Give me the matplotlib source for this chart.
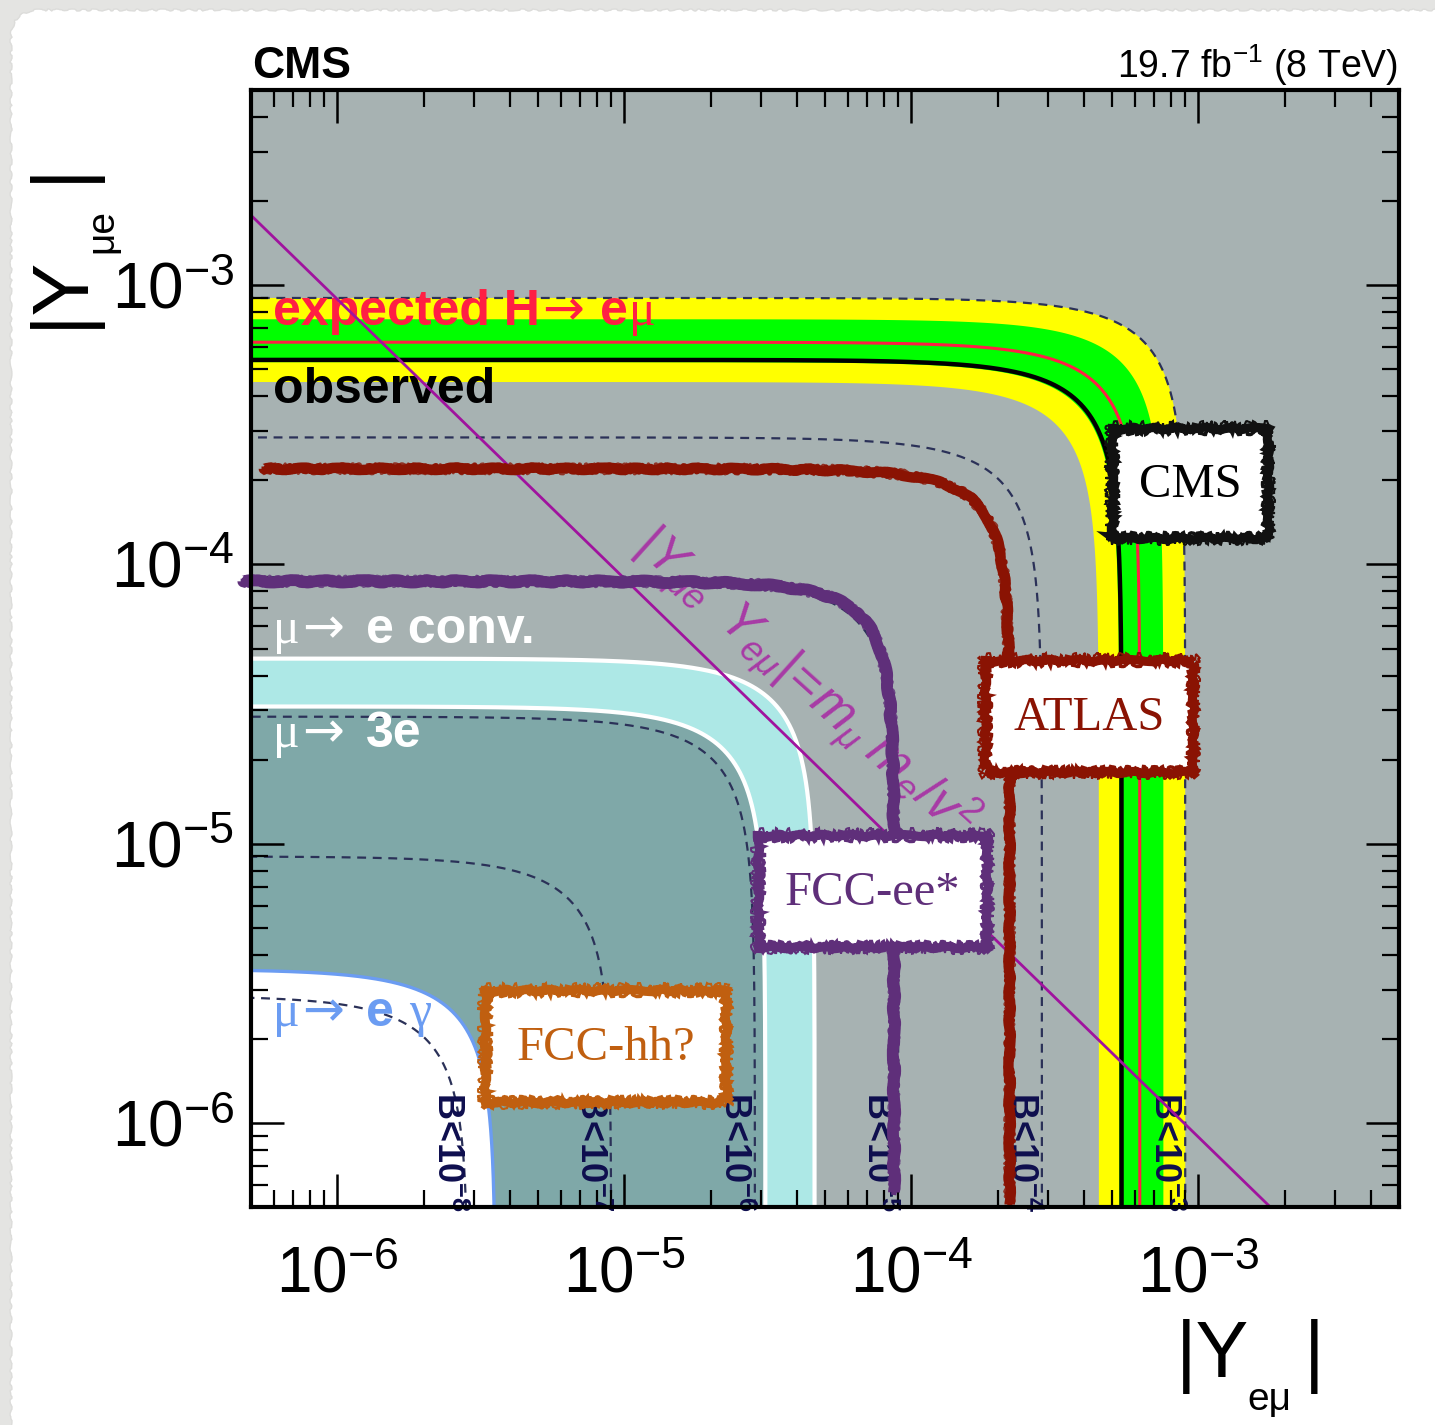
import numpy as np
import matplotlib
matplotlib.use('Agg')
import matplotlib.pyplot as plt
from matplotlib.patches import Rectangle, FancyBboxPatch
from matplotlib.ticker import LogLocator, LogFormatterSciNotation, NullFormatter

plt.rcParams['font.family'] = ['Liberation Sans', 'DejaVu Sans']
plt.rcParams['mathtext.fontset'] = 'custom'
plt.rcParams['mathtext.rm'] = 'Liberation Sans'
plt.rcParams['mathtext.it'] = 'Liberation Sans:italic'
plt.rcParams['mathtext.bf'] = 'Liberation Sans:bold'
plt.rcParams['mathtext.sf'] = 'Liberation Sans'

# ---------------- data ----------------
x_range = [5e-7, 5e-3]           # |Y_e mu|
y_range = [5e-7, 5e-3]           # |Y_mu e|
br_exponents = ['-3', '-4', '-5', '-6', '-7', '-8']
br_radius = [9.0e-4, 2.85e-4, 9.0e-5, 2.85e-5, 9.0e-6, 2.85e-6]
cms_observed = 5.4e-4
cms_expected = 6.25e-4
cms_band_1sigma = [5.3e-4, 7.55e-4]
cms_band_2sigma = [4.5e-4, 9.0e-4]
mu_e_conv_radius = 4.6e-5
mu_3e_radius = 3.1e-5
mu_egamma_radius = 3.55e-6
atlas_radius = 2.2e-4
atlas_start = [5.5e-7, 5.07e-7]   # x start of horizontal, y end of vertical
fccee_radius = 8.7e-5
fccee_start = [4.7e-7, 5.6e-7]
naturalness = 8.9e-10            # m_mu m_e / v^2

W, H = 1435, 1425
fig = plt.figure(figsize=(W / 100, H / 100), dpi=100)
fig.patch.set_facecolor('#e4e4e2')
card = FancyBboxPatch((11 / W, -0.2), 1.3, 1 - 10 / H + 0.2,
                      boxstyle='round,pad=0,rounding_size=0.02',
                      transform=fig.transFigure, fc='white', ec='#dcdcda', lw=1, zorder=-10)
card.set_sketch_params(1.0, 20, 6)
fig.add_artist(card)

ax = fig.add_axes([251 / W, (H - 1207) / H, 1148 / W, 1117 / H])
ax.set_zorder(1)
ax.set_xscale('log')
ax.set_yscale('log')
ax.set_facecolor('#a7b2b2')
ax.autoscale(False)
ax.set_xlim(*x_range)
ax.set_ylim(*y_range)

U = np.linspace(-4.5, 4.5, 2000)
TH = np.arctan(10.0 ** U)


def quarter(r, p=2.0):
    c = np.cos(TH)
    s = np.sin(TH)
    return r * c ** (2.0 / p), r * s ** (2.0 / p)


def band(r_in, r_out, color, z):
    xo, yo = quarter(r_out)
    xi, yi = quarter(r_in)
    ax.fill(np.r_[xo, xi[::-1]], np.r_[yo, yi[::-1]], color=color, lw=0, zorder=z)


def disk(r, color, z):
    x, y = quarter(r)
    ax.fill(np.r_[x, 1e-14], np.r_[y, 1e-14], color=color, lw=0, zorder=z)


# CMS bands
band(cms_band_2sigma[0], cms_band_2sigma[1], '#ffff00', 1)
band(cms_band_1sigma[0], cms_band_1sigma[1], '#00ff00', 1.1)
ax.plot(*quarter(cms_expected), color='#ff1f44', lw=2.2, zorder=2.2)
ax.plot(*quarter(cms_observed), color='black', lw=3.2, zorder=2.3)

# low-energy constraints
disk(mu_e_conv_radius, '#ade8e6', 1)
disk(mu_3e_radius, '#7fa8a8', 1.1)
disk(mu_egamma_radius, 'white', 1.2)
ax.plot(*quarter(mu_e_conv_radius), color='white', lw=3, zorder=2.1)
ax.plot(*quarter(mu_3e_radius), color='white', lw=3, zorder=2.1)
ax.plot(*quarter(mu_egamma_radius), color='#6b9cf2', lw=2.4, zorder=2.1)

# branching ratio contours
for r in br_radius:
    ax.plot(*quarter(r), color='#2b3158', lw=1.6, dashes=(4, 3), zorder=3)

for r, e in zip(br_radius, br_exponents):
    ax.annotate(r'$\mathbf{B\!<\!10^{%s}}$' % e, xy=(r, 0.103),
                xycoords=ax.get_xaxis_transform(), xytext=(-15, 0),
                textcoords='offset points', rotation=270, ha='center', va='top',
                color='#0e0e4e', fontsize=26, zorder=5)

# naturalness line
xn = np.logspace(np.log10(x_range[0]), np.log10(x_range[1]), 200)
ax.plot(xn, naturalness / xn, color='#a0139e', lw=2.0, zorder=6)


def hand_line(r, start, color, lw):
    x, y = quarter(r, 2.5)
    m = (x >= start[0]) & (y >= start[1])
    x, y = x[m], y[m]
    l1, = ax.plot(x, y, color=color, lw=lw, zorder=7, clip_on=False, solid_capstyle='butt')
    l1.set_sketch_params(1.2, 60, 6)
    l2, = ax.plot(x, y, color=color, lw=lw * 0.45, zorder=7, clip_on=False)
    l2.set_sketch_params(3.5, 18, 8)
    l3, = ax.plot(x, y, color=color, lw=lw * 0.3, zorder=7, clip_on=False, alpha=0.8)
    l3.set_sketch_params(5.0, 12, 10)


hand_line(atlas_radius, atlas_start, '#8a1303', 7.5)
hand_line(fccee_radius, fccee_start, '#5f2f7a', 8.5)


def fpt(px, py):
    return px / W, 1 - py / H


renderer = fig.canvas.get_renderer()


def chain(px, py, pieces, color, size, z=5):
    x = px
    for s, weight, fam, gap in pieces:
        t = ax.text(*fpt(x, py), s, transform=fig.transFigure, color=color, fontsize=size,
                    fontweight=weight, family=fam, ha='left', va='baseline', zorder=z)
        bb = t.get_window_extent(renderer)
        x = bb.x1 + gap


sans = ['Liberation Sans', 'DejaVu Sans']
serif = ['Liberation Serif', 'DejaVu Serif']
arrow = ['DejaVu Sans']
chain(273, 325, [('expected H', 'bold', sans, 2), ('\u2192', 'normal', arrow, 16),
                 ('e', 'bold', sans, 1), ('\u03bc', 'normal', serif, 0)], '#ff1f44', 36)
chain(273, 403, [('observed', 'bold', sans, 0)], 'black', 36)
chain(273, 643, [('\u03bc', 'normal', serif, 2), ('\u2192', 'normal', arrow, 22),
                 ('e conv.', 'bold', sans, 0)], 'white', 36)
chain(273, 747, [('\u03bc', 'normal', serif, 2), ('\u2192', 'normal', arrow, 22),
                 ('3e', 'bold', sans, 0)], 'white', 36)
chain(273, 1026, [('\u03bc', 'normal', serif, 2), ('\u2192', 'normal', arrow, 22),
                  ('e', 'bold', sans, 16), ('\u03b3', 'normal', serif, 0)], '#6b9cf2', 36)

ax.text(*fpt(805, 683), r'$|Y_{\mu e}\;\;Y_{e\mu}|\!=\!m_{\mu}\;m_{e}/v^{2}$',
        transform=fig.transFigure, rotation=-42, rotation_mode='anchor',
        ha='center', va='center', color='#a83aa5', fontsize=37, zorder=6)


def sketch_box(x0, y0, x1, y1, ec, label, tc):
    fill = Rectangle(fpt(x0, y1), (x1 - x0) / W, (y1 - y0) / H, transform=fig.transFigure,
                     fc='white', ec='none', zorder=8, clip_on=False)
    ax.add_patch(fill)
    bx = np.array([x0, x1, x1, x0, x0], float)
    by = np.array([y0, y0, y1, y1, y0], float)
    for lw, sk, dx in [(6.5, (1.2, 40, 6), 0), (2.5, (3.0, 15, 8), 3), (1.5, (4.0, 10, 10), -3)]:
        xs = np.r_[bx[:4] + [dx, -dx, -dx, dx], bx[0] + dx]
        ys = np.r_[by[:4] + [dx, dx, -dx, -dx], by[0] + dx]
        ln, = ax.plot(xs / W, 1 - ys / H, transform=fig.transFigure, color=ec, lw=lw,
                      zorder=8.2, clip_on=False, solid_joinstyle='miter')
        ln.set_sketch_params(*sk)
    ax.text(*fpt((x0 + x1) / 2, (y0 + y1) / 2 + 2), label, transform=fig.transFigure,
            ha='center', va='center', family=serif, fontsize=35, color=tc, zorder=9)


sketch_box(1112, 428, 1268, 538, '#111111', 'CMS', 'black')
sketch_box(985, 660, 1193, 772, '#8a1303', 'ATLAS', '#8a1303')
sketch_box(758, 835, 987, 947, '#5f2f7a', 'FCC-ee*', '#5f2f7a')
sketch_box(485, 990, 726, 1102, '#c05f10', 'FCC-hh?', '#c05f10')

# axes styling
ax.xaxis.set_major_locator(LogLocator(base=10, numticks=20))
ax.yaxis.set_major_locator(LogLocator(base=10, numticks=20))
ax.xaxis.set_minor_locator(LogLocator(base=10, subs=np.arange(2, 10), numticks=100))
ax.yaxis.set_minor_locator(LogLocator(base=10, subs=np.arange(2, 10), numticks=100))
ax.xaxis.set_major_formatter(LogFormatterSciNotation())
ax.yaxis.set_major_formatter(LogFormatterSciNotation())
ax.xaxis.set_minor_formatter(NullFormatter())
ax.yaxis.set_minor_formatter(NullFormatter())
ax.tick_params(which='major', direction='in', length=24, width=1.8, top=True, right=True,
               labelsize=46, colors='black')
ax.tick_params(which='minor', direction='in', length=12, width=1.6, top=True, right=True)
ax.tick_params(axis='x', which='major', pad=28)
ax.tick_params(axis='y', which='major', pad=12)
ax.xaxis.set_zorder(4)
ax.yaxis.set_zorder(4)
for s in ax.spines.values():
    s.set_linewidth(3)
    s.set_zorder(10)

# titles
ax.text(*fpt(252, 78), 'CMS', transform=fig.transFigure, fontsize=32, fontweight='bold',
        ha='left', va='baseline')
ax.text(*fpt(1398, 78), r'19.7 fb$^{\mathregular{-1}}$ (8 TeV)', transform=fig.transFigure,
        fontsize=27, ha='right', va='baseline')

# axis labels (built piecewise, ROOT style)
ax.text(*fpt(82, 328), '|Y', transform=fig.transFigure, fontsize=57, rotation=90,
        rotation_mode='anchor', ha='left', va='baseline')
ax.text(*fpt(112, 253), '\u03bce', transform=fig.transFigure, fontsize=28, rotation=90,
        rotation_mode='anchor', ha='left', va='baseline')
ax.text(*fpt(82, 182), '|', transform=fig.transFigure, fontsize=57, rotation=90,
        rotation_mode='anchor', ha='left', va='baseline')
ax.text(*fpt(1176, 1377), '|Y', transform=fig.transFigure, fontsize=57, ha='left', va='baseline')
ax.text(*fpt(1247, 1410), 'e\u03bc', transform=fig.transFigure, fontsize=28, ha='left', va='baseline')
ax.text(*fpt(1304, 1377), '|', transform=fig.transFigure, fontsize=57, ha='left', va='baseline')

fig.savefig('out.png', dpi=100, facecolor=fig.get_facecolor())
